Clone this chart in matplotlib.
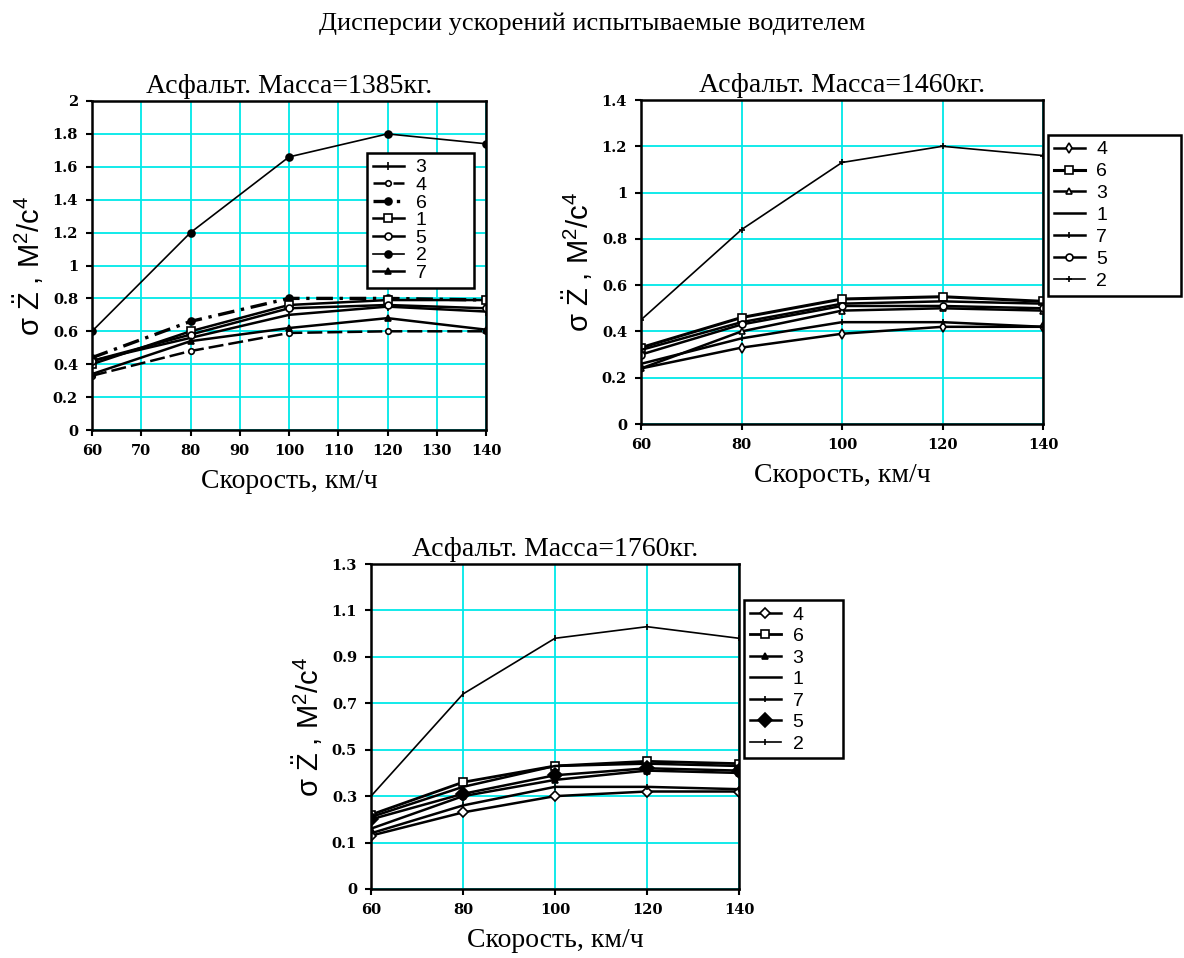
import matplotlib
matplotlib.use("Agg")
import matplotlib.pyplot as plt
from matplotlib.ticker import FixedLocator, FormatStrFormatter

plt.rcParams['mathtext.fontset'] = 'custom'
plt.rcParams['mathtext.rm'] = 'Liberation Sans'
plt.rcParams['mathtext.it'] = 'Liberation Sans:italic'

# ---------------- data ----------------
speed = [60, 80, 100, 120, 140]

suptitle = "Дисперсии ускорений испытываемые водителем"
titles = ["Асфальт. Масса=1385кг.", "Асфальт. Масса=1460кг.", "Асфальт. Масса=1760кг."]
xlabel = "Скорость, км/ч"
ylabel = "σ $\\ddot{\\mathrm{Z}}$ , М$^2$/с$^4$"

# Panel 1: mass 1385 kg
p1_order = ["3", "4", "6", "1", "5", "2", "7"]
p1_3 = [0.42, 0.56, 0.70, 0.75, 0.72]
p1_4 = [0.33, 0.48, 0.59, 0.60, 0.60]
p1_6 = [0.44, 0.66, 0.80, 0.80, 0.79]
p1_1 = [0.40, 0.60, 0.76, 0.79, 0.79]
p1_5 = [0.42, 0.58, 0.74, 0.76, 0.74]
p1_2 = [0.60, 1.20, 1.66, 1.80, 1.74]
p1_7 = [0.34, 0.54, 0.62, 0.68, 0.61]

# Panel 2: mass 1460 kg
p2_order = ["4", "6", "3", "1", "7", "5", "2"]
p2_4 = [0.24, 0.33, 0.39, 0.42, 0.42]
p2_6 = [0.33, 0.46, 0.54, 0.55, 0.53]
p2_3 = [0.24, 0.40, 0.49, 0.50, 0.49]
p2_1 = [0.32, 0.44, 0.52, 0.53, 0.52]
p2_7 = [0.26, 0.37, 0.44, 0.44, 0.42]
p2_5 = [0.30, 0.43, 0.51, 0.51, 0.50]
p2_2 = [0.45, 0.84, 1.13, 1.20, 1.16]

# Panel 3: mass 1760 kg
p3_order = ["4", "6", "3", "1", "7", "5", "2"]
p3_4 = [0.13, 0.23, 0.30, 0.32, 0.32]
p3_6 = [0.22, 0.36, 0.43, 0.45, 0.44]
p3_3 = [0.16, 0.30, 0.37, 0.41, 0.40]
p3_1 = [0.21, 0.34, 0.43, 0.44, 0.43]
p3_7 = [0.14, 0.26, 0.34, 0.34, 0.33]
p3_5 = [0.20, 0.31, 0.39, 0.42, 0.41]
p3_2 = [0.30, 0.74, 0.98, 1.03, 0.98]

p1_ticks_y = [0, 0.2, 0.4, 0.6, 0.8, 1.0, 1.2, 1.4, 1.6, 1.8, 2.0]
p1_ticks_x = [60, 70, 80, 90, 100, 110, 120, 130, 140]
p2_ticks_y = [0, 0.2, 0.4, 0.6, 0.8, 1.0, 1.2, 1.4]
p2_ticks_x = [60, 80, 100, 120, 140]
p3_ticks_y = [-0.1, 0.1, 0.3, 0.5, 0.7, 0.9, 1.1, 1.3]
p3_labels_y = ["0", "0.1", "0.3", "0.5", "0.7", "0.9", "1.1", "1.3"]
p3_ticks_x = [60, 80, 100, 120, 140]

p1 = {"3": p1_3, "4": p1_4, "6": p1_6, "1": p1_1, "5": p1_5, "2": p1_2, "7": p1_7}
p2 = {"4": p2_4, "6": p2_6, "3": p2_3, "1": p2_1, "7": p2_7, "5": p2_5, "2": p2_2}
p3 = {"4": p3_4, "6": p3_6, "3": p3_3, "1": p3_1, "7": p3_7, "5": p3_5, "2": p3_2}

# ---------------- styles ----------------
st1 = {
    "3": dict(marker="|", ms=6, mfc="k", lw=1.8),
    "4": dict(marker="o", ms=4, mfc="white", lw=1.8, ls=(0, (6, 2))),
    "6": dict(marker="o", ms=5, mfc="k", lw=2.4, ls=(0, (5, 2, 1, 2))),
    "1": dict(marker="s", ms=6, mfc="white", lw=1.8),
    "5": dict(marker="o", ms=5, mfc="white", lw=1.8),
    "2": dict(marker="o", ms=5, mfc="k", lw=1.2),
    "7": dict(marker="^", ms=5, mfc="k", lw=1.8),
}
st2 = {
    "4": dict(marker="d", ms=5, mfc="white", lw=1.8),
    "6": dict(marker="s", ms=6, mfc="white", lw=2.2),
    "3": dict(marker="^", ms=5, mfc="white", lw=1.8),
    "1": dict(marker=None, lw=1.8),
    "7": dict(marker="|", ms=4, mfc="k", lw=1.8),
    "5": dict(marker="o", ms=5, mfc="white", lw=1.8),
    "2": dict(marker="+", ms=5, mfc="k", lw=1.2),
}
st3 = {
    "4": dict(marker="D", ms=5, mfc="white", lw=1.8),
    "6": dict(marker="s", ms=6, mfc="white", lw=2.0),
    "3": dict(marker="^", ms=5, mfc="k", lw=1.8),
    "1": dict(marker=None, lw=1.8),
    "7": dict(marker="|", ms=4, mfc="k", lw=1.8),
    "5": dict(marker="D", ms=7, mfc="k", lw=1.8),
    "2": dict(marker="|", ms=4, mfc="k", lw=1.2),
}

fig = plt.figure(figsize=(11.84, 9.58), dpi=100)
fig.text(0.5, 1 - 24 / 958, suptitle, ha="center", va="center",
         family="Liberation Serif", fontsize=19)

serif = "Liberation Serif"
sans = "Liberation Sans"
tickfont = "DejaVu Serif"
grid_color = "#00E8E8"


def panel(rect, data, order, styles, xticks, yticks, ylim, title, leg_box,
          leg_spacing, ylabels=None):
    ax = fig.add_axes(rect)
    for name in order:
        s = dict(styles[name])
        ax.plot(speed, data[name], color="k", mec="k", label=name, mew=1.2, **s)
    ax.set_xlim(60, 140)
    ax.set_ylim(*ylim)
    ax.xaxis.set_major_locator(FixedLocator(xticks))
    ax.yaxis.set_major_locator(FixedLocator(yticks))
    if ylabels is not None:
        ax.set_yticklabels(ylabels)
    else:
        ax.yaxis.set_major_formatter(FormatStrFormatter("%g"))
    ax.grid(True, color=grid_color, lw=1.3)
    ax.set_axisbelow(True)
    for sp in ax.spines.values():
        sp.set_linewidth(1.8)
    ax.tick_params(direction="out", length=4, width=1.5, pad=6)
    for lab in ax.get_xticklabels() + ax.get_yticklabels():
        lab.set_family(tickfont)
        lab.set_fontweight("bold")
        lab.set_fontsize(10.5)
    ax.set_title(title, family=serif, fontsize=20, pad=6)
    ax.set_xlabel(xlabel, family=serif, fontsize=20, labelpad=8)
    ax.set_ylabel(ylabel, family=sans, fontsize=21, labelpad=5)
    x0, ytop, w = leg_box
    leg = ax.legend(loc="upper left", bbox_to_anchor=(x0, ytop - 0.6, w, 0.6),
                    mode="expand", borderaxespad=0,
                    frameon=True, fancybox=False, edgecolor="k",
                    prop={"family": sans, "size": 14}, handlelength=1.6,
                    handletextpad=0.6, labelspacing=leg_spacing, borderpad=0.3,
                    framealpha=1)
    leg.get_frame().set_linewidth(1.8)
    return ax, leg


ax1, l1 = panel([92 / 1184, 1 - 430 / 958, 394 / 1184, 329 / 958], p1, p1_order, st1,
                p1_ticks_x, p1_ticks_y, (0, 2.0), titles[0], (0.698, 0.842, 0.272), 0.0)
ax2, l2 = panel([641 / 1184, 1 - 424 / 958, 402 / 1184, 324 / 958], p2, p2_order, st2,
                p2_ticks_x, p2_ticks_y, (0, 1.4), titles[1], (1.012, 0.892, 0.331), 0.22)
ax3, l3 = panel([371 / 1184, 1 - 889 / 958, 368 / 1184, 325 / 958], p3, p3_order, st3,
                p3_ticks_x, p3_ticks_y, (-0.1, 1.3), titles[2], (1.0136, 0.889, 0.269), 0.2,
                ylabels=p3_labels_y)

fig.savefig("out.png", dpi=100, facecolor="white")
